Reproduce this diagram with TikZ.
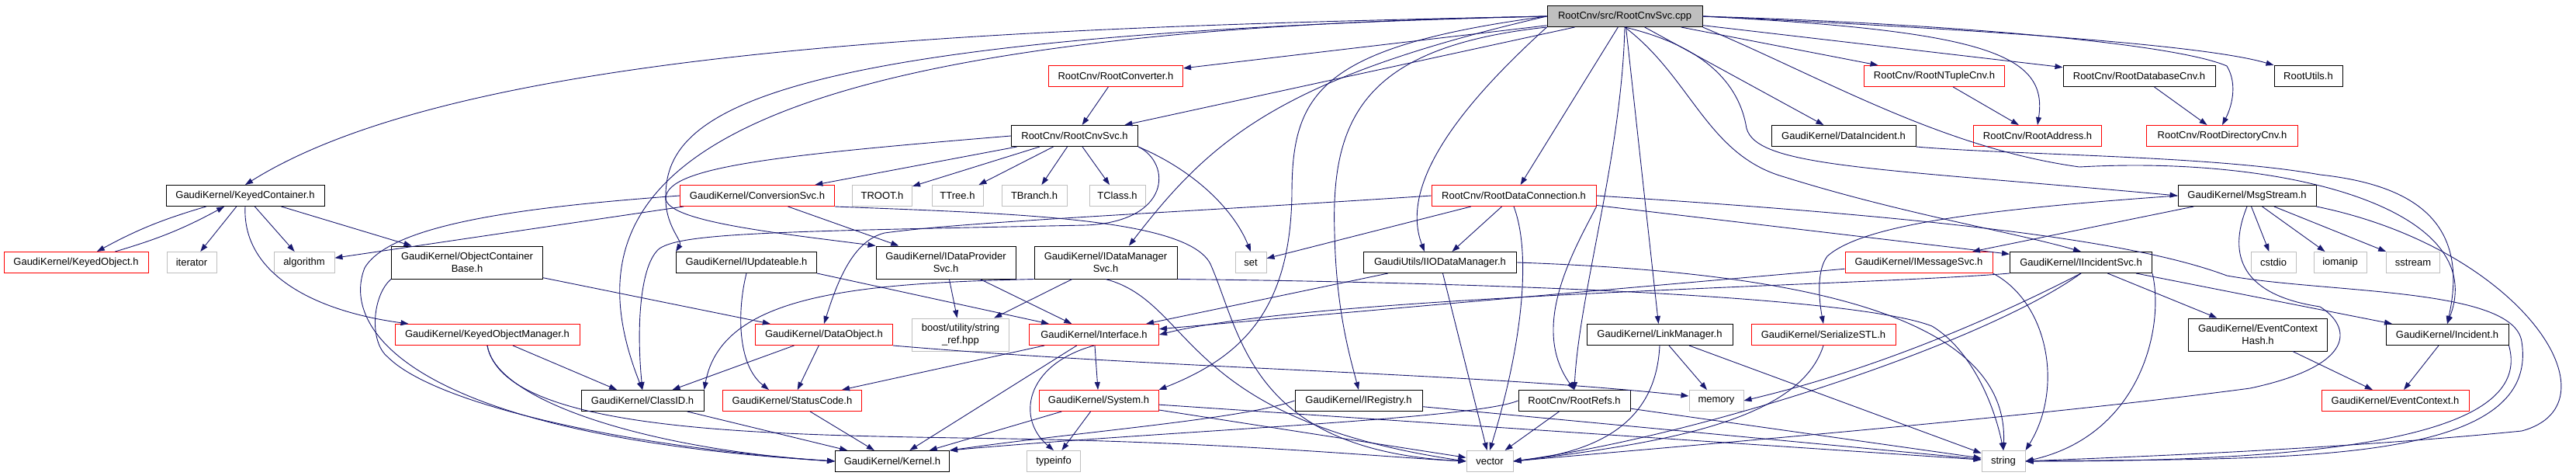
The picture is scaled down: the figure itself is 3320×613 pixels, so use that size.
\documentclass[tikz,border=0pt]{standalone}
\usepackage{fontspec}
\setmainfont{Liberation Sans}
\usepackage{xcolor}
\usetikzlibrary{arrows.meta}

\definecolor{edgeblue}{HTML}{191970}
\definecolor{sysgray}{HTML}{BFBFBF}

\tikzset{
  hdr/.style={draw=black, line width=1pt, font=\fontsize{13}{16}\selectfont,
    inner sep=0pt, minimum height=27pt, align=center},
  twoline/.style={minimum height=42pt},
  redhdr/.style={hdr, draw=red},
  syshdr/.style={hdr, draw=sysgray},
  roothdr/.style={hdr, fill=sysgray},
  dep/.style={edgeblue, line width=0.9pt, -{Triangle[length=10pt,width=7pt]}},
}

\begin{document}
\begin{tikzpicture}[x=1pt, y=-1pt]
\fill[white] (0,0) rectangle (3320,613);
\useasboundingbox (0,0) rectangle (3320,613);

% The file itself
\node[roothdr, minimum width=200pt] (root) at (2094,21) {RootCnv/src/RootCnvSvc.cpp};

% Row 1
\node[redhdr, minimum width=173pt] (rconv) at (1438,98) {RootCnv/RootConverter.h};
\node[redhdr, minimum width=181pt] (rntup) at (2493,98) {RootCnv/RootNTupleCnv.h};
\node[hdr, minimum width=196pt] (rdbcnv) at (2757,98) {RootCnv/RootDatabaseCnv.h};
\node[hdr, minimum width=88pt] (rutils) at (2975,98) {RootUtils.h};

% Row 2
\node[hdr, minimum width=163pt] (rcs) at (1385,175) {RootCnv/RootCnvSvc.h};
\node[hdr, minimum width=186pt] (dinc) at (2376,175) {GaudiKernel/DataIncident.h};
\node[redhdr, minimum width=165pt] (raddr) at (2626,175) {RootCnv/RootAddress.h};
\node[redhdr, minimum width=195pt] (rdir) at (2864,175) {RootCnv/RootDirectoryCnv.h};

% Row 3
\node[hdr, minimum width=204pt] (kc) at (316,252) {GaudiKernel/KeyedContainer.h};
\node[redhdr, minimum width=199pt] (convsvc) at (976,252) {GaudiKernel/ConversionSvc.h};
\node[syshdr, minimum width=77pt] (troot) at (1137,252) {TROOT.h};
\node[syshdr, minimum width=66pt] (ttree) at (1234,252) {TTree.h};
\node[syshdr, minimum width=84pt] (tbranch) at (1333,252) {TBranch.h};
\node[syshdr, minimum width=72pt] (tclass) at (1440,252) {TClass.h};
\node[redhdr, minimum width=212pt] (rdc) at (1951,252) {RootCnv/RootDataConnection.h};
\node[hdr, minimum width=178pt] (msg) at (2896,252) {GaudiKernel/MsgStream.h};

% Row 4
\node[redhdr, minimum width=186pt] (kobj) at (98,338) {GaudiKernel/KeyedObject.h};
\node[syshdr, minimum width=64pt] (iterator) at (247,338) {iterator};
\node[syshdr, minimum width=78pt] (algorithm) at (392,338) {algorithm};
\node[hdr, twoline, minimum width=195pt] (ocb) at (602,338) {GaudiKernel/ObjectContainer\\Base.h};
\node[hdr, minimum width=181pt] (iupd) at (962,338) {GaudiKernel/IUpdateable.h};
\node[hdr, twoline, minimum width=180pt] (idps) at (1219,338) {GaudiKernel/IDataProvider\\Svc.h};
\node[hdr, twoline, minimum width=184pt] (idms) at (1425,338) {GaudiKernel/IDataManager\\Svc.h};
\node[syshdr, minimum width=40pt] (set) at (1612,338) {set};
\node[hdr, minimum width=197pt] (iio) at (1856,338) {GaudiUtils/IIODataManager.h};
\node[redhdr, minimum width=190pt] (imsg) at (2473,338) {GaudiKernel/IMessageSvc.h};
\node[hdr, minimum width=183pt] (iinc) at (2682,338) {GaudiKernel/IIncidentSvc.h};
\node[syshdr, minimum width=58pt] (cstdio) at (2930,338) {cstdio};
\node[syshdr, minimum width=68pt] (iomanip) at (3016,338) {iomanip};
\node[syshdr, minimum width=69pt] (sstream) at (3110,338) {sstream};

% Row 5
\node[redhdr, minimum width=238pt] (kom) at (628,431) {GaudiKernel/KeyedObjectManager.h};
\node[redhdr, minimum width=177pt] (dobj) at (1062,431) {GaudiKernel/DataObject.h};
\node[syshdr, twoline, minimum width=125pt] (boost) at (1238,431) {boost/utility/string\\\_ref.hpp};
\node[redhdr, minimum width=167pt] (iface) at (1410,431) {GaudiKernel/Interface.h};
\node[hdr, minimum width=188pt] (linkm) at (2139,431) {GaudiKernel/LinkManager.h};
\node[redhdr, minimum width=186pt] (serial) at (2350,431) {GaudiKernel/SerializeSTL.h};
\node[hdr, twoline, minimum width=179pt] (ech) at (2910,431) {GaudiKernel/EventContext\\Hash.h};
\node[hdr, minimum width=158pt] (inc) at (3154,431) {GaudiKernel/Incident.h};

% Row 6
\node[hdr, minimum width=158pt] (classid) at (828,516) {GaudiKernel/ClassID.h};
\node[redhdr, minimum width=179pt] (statc) at (1021,516) {GaudiKernel/StatusCode.h};
\node[redhdr, minimum width=154pt] (sys) at (1416,516) {GaudiKernel/System.h};
\node[hdr, minimum width=164pt] (ireg) at (1751,516) {GaudiKernel/IRegistry.h};
\node[hdr, minimum width=144pt] (rrefs) at (2029,516) {RootCnv/RootRefs.h};
\node[syshdr, minimum width=70pt] (memory) at (2212,516) {memory};
\node[redhdr, minimum width=190pt] (evc) at (3087,516) {GaudiKernel/EventContext.h};

% Row 7
\node[hdr, minimum width=147pt] (kernel) at (1150,594) {GaudiKernel/Kernel.h};
\node[syshdr, minimum width=69pt] (typeinfo) at (1358,594) {typeinfo};
\node[syshdr, minimum width=60pt] (vector) at (1920,594) {vector};
\node[syshdr, minimum width=56pt] (string) at (2582,594) {string};

% Straight includes
\foreach \s/\t in {root/rconv, root/rcs, root/rntup, root/rdbcnv, root/dinc, root/rdc,
    root/linkm, rconv/rcs, rntup/raddr, rdbcnv/rdir, rcs/convsvc, rcs/troot, rcs/ttree,
    rcs/tbranch, rcs/tclass, kc/iterator, kc/algorithm, kc/ocb, convsvc/algorithm,
    convsvc/idps, ocb/dobj, kom/classid, idps/boost, idps/iface, idms/boost, iio/iface,
    iio/vector, rdc/set, rdc/iio, rdc/iinc, msg/imsg, msg/cstdio, msg/iomanip, msg/sstream,
    imsg/iface, iinc/inc, iinc/ech, inc/evc, ech/evc, dobj/statc, dobj/classid, iface/statc,
    iface/sys, iface/kernel, statc/kernel, sys/kernel, sys/typeinfo, sys/vector, sys/string,
    classid/kernel, ireg/string, rrefs/vector, rrefs/string, linkm/memory, linkm/string}
  \draw[dep] (\s) -- (\t);

% KeyedContainer and KeyedObject include each other
\draw[dep] (kc) to[bend right=6] (kobj);
\draw[dep] (kobj) to[bend right=6] (kc);

% Long ones from the file, to the left
\draw[dep] (root.west) .. controls (1300,35) and (600,60) .. (kc.north);
\draw[dep] (root.west) .. controls (900,40) and (720,230) .. (classid.north);
\draw[dep] (root.west) .. controls (1000,45) and (860,140) .. (858,250)
  .. controls (856,290) and (880,310) .. (iupd.north west);
\draw[dep] (root.west) .. controls (1650,100) and (1560,180) .. ([xshift=30pt]idms.north);
\draw[dep] (root.west) .. controls (1700,60) and (1665,120) .. (1665,250)
  .. controls (1663,400) and (1600,460) .. (sys.north east);
\draw[dep] (root.south west) .. controls (1760,60) and (1715,150) .. (1720,300)
  .. controls (1722,400) and (1740,460) .. (ireg.north);
\draw[dep] (root.south west) .. controls (1900,120) and (1800,230) .. ([xshift=-20pt]iio.north);
\draw[dep] (root.south) .. controls (2090,200) and (2035,380) .. (rrefs.north);

% Long ones from the file, to the right
\draw[dep] (root.east) .. controls (2560,40) and (2640,70) .. (raddr.north);
\draw[dep] (root.east) .. controls (2500,30) and (2800,55) .. (2870,85)
  .. controls (2885,110) and (2875,140) .. (rdir.north);
\draw[dep] (root.east) .. controls (2600,40) and (2850,60) .. (rutils.north west);
\draw[dep] (root.south) .. controls (2200,60) and (2240,110) .. (2250,160)
  .. controls (2255,215) and (2400,215) .. (msg.west);
\draw[dep] (root.south) .. controls (2180,100) and (2200,200) .. (2300,228)
  .. controls (2450,275) and (2600,300) .. (iinc.north);
\draw[dep] (root.south east) .. controls (2350,100) and (2500,190) .. (2680,215)
  .. controls (2950,200) and (3210,270) .. (inc.north);
\draw[dep] (dinc.south east) .. controls (2600,200) and (2850,200) .. (2990,225)
  .. controls (3130,240) and (3180,300) .. (inc.north);

% RootCnvSvc.h
\draw[dep] (rcs.south east) .. controls (1540,220) and (1590,270) .. (set.north);
\draw[dep] (rcs.west) .. controls (1000,200) and (860,215) .. (858,255)
  .. controls (858,285) and (1000,300) .. (idps.north west);
\draw[dep] (rcs.south east) .. controls (1510,210) and (1510,285) .. (1400,290)
  .. controls (1000,298) and (880,300) .. (850,320)
  .. controls (825,340) and (820,420) .. (classid.north);

% Containers and conversion service
\draw[dep] (kc.south) .. controls (312,350) and (400,400) .. ([xshift=18pt]kom.north west);
\draw[dep] (convsvc.west) .. controls (700,265) and (505,285) .. (470,345)
  .. controls (440,420) and (520,560) .. (kernel.west);
\draw[dep] (convsvc.south east) .. controls (1300,275) and (1530,280) .. (1560,340)
  .. controls (1600,430) and (1610,580) .. (vector.west);
\draw[dep] (ocb.south west) .. controls (480,380) and (475,440) .. (500,460)
  .. controls (560,520) and (800,575) .. (kernel.west);
\draw[dep] (kom.south) .. controls (640,520) and (850,580) .. (kernel.west);
\draw[dep] (kom.south) .. controls (650,560) and (1000,560) .. (1300,565)
  .. controls (1600,570) and (1800,590) .. (vector.west);

% Interfaces
\draw[dep] (iupd.south) .. controls (950,400) and (950,470) .. ([xshift=-30pt]statc.north);
\draw[dep] (iupd.south east) -- ([xshift=26pt]iface.north west);
\draw[dep] (idms.south west) .. controls (1100,365) and (930,380) .. (classid.north east);
\draw[dep] (idms.south) .. controls (1540,390) and (1520,540) .. (vector.west);
\draw[dep] (idms.south east) .. controls (2000,365) and (2400,385) .. (2490,420)
  .. controls (2540,450) and (2570,520) .. (string.north);
\draw[dep] (iface.south) .. controls (1320,470) and (1310,540) .. (typeinfo.north);
\draw[dep] (dobj.south east) .. controls (1500,475) and (1900,480) .. ([yshift=6pt]memory.west);
\draw[dep] (iio.east) .. controls (2300,350) and (2590,400) .. (string.north);

% RootDataConnection.h
\draw[dep] (rdc.west) .. controls (1500,275) and (1250,285) .. (1140,300)
  .. controls (1100,310) and (1080,360) .. (dobj.north);
\draw[dep] (rdc.south) .. controls (1975,330) and (1960,450) .. (vector.north);
\draw[dep] (rdc.south east) .. controls (2030,320) and (1970,420) .. (rrefs.north);
\draw[dep] (rdc.east) .. controls (2500,280) and (2750,310) .. (2870,355)
  .. controls (3000,378) and (3240,370) .. (3250,440)
  .. controls (3275,600) and (2950,590) .. (string.east);

% MsgStream.h
\draw[dep] (msg.west) .. controls (2550,270) and (2400,290) .. (2355,330)
  .. controls (2340,350) and (2345,390) .. (serial.north);
\draw[dep] (msg.south east) .. controls (3250,320) and (3380,520) .. (3250,555)
  .. controls (3000,580) and (2700,590) .. (string.east);
\draw[dep] (msg.south) .. controls (2870,330) and (2890,380) .. (2990,395)
  .. controls (3030,420) and (3040,470) .. (2900,500)
  .. controls (2600,540) and (2100,580) .. (vector.east);

% Message and incident services
\draw[dep] (imsg.south east) .. controls (2640,390) and (2660,500) .. (string.north east);
\draw[dep] (iinc.south west) .. controls (2400,368) and (1700,380) .. (iface.east);
\draw[dep] (iinc.south) .. controls (2550,420) and (2400,480) .. (memory.east);
\draw[dep] (iinc.south) .. controls (2560,440) and (2200,560) .. (vector.east);
\draw[dep] (iinc.south east) .. controls (2790,420) and (2760,560) .. (string.east);
\draw[dep] (inc.south east) .. controls (3260,540) and (3100,595) .. (string.east);

% Links, refs and registry
\draw[dep] (linkm.south) .. controls (2135,530) and (2080,580) .. (vector.east);
\draw[dep] (serial.south) .. controls (2320,540) and (2150,570) .. (vector.east);
\draw[dep] (rrefs.west) .. controls (1900,540) and (1500,555) .. (kernel.north east);
\draw[dep] (ireg.west) .. controls (1600,540) and (1400,555) .. (kernel.north east);
\end{tikzpicture}
\end{document}
